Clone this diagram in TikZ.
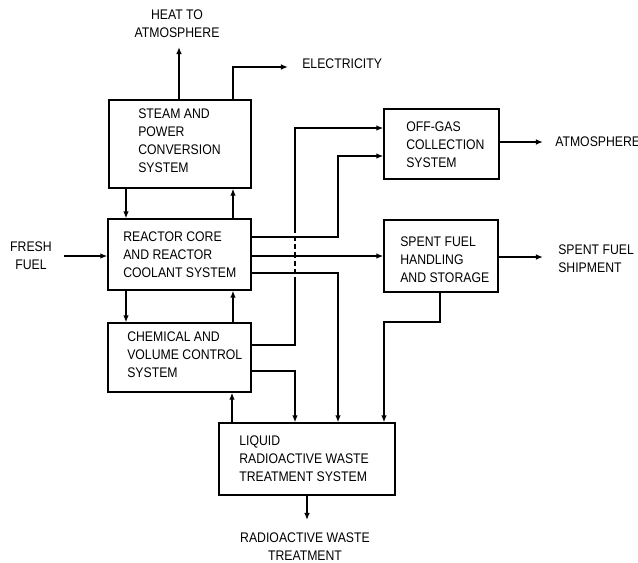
\documentclass[tikz,border=0pt]{standalone}
\usepackage{fontspec}
\setmainfont{Liberation Sans}[FakeStretch=0.88]
\usepackage{tikz}
\usetikzlibrary{positioning,arrows.meta}

\begin{document}
\begin{tikzpicture}[x=0.025cm,y=-0.025cm,>={Latex[length=5pt,width=4pt]},
  blk/.style={draw,line width=0.9pt,inner sep=0pt},
  txt/.style={inner sep=0pt,align=left,font=\fontsize{9.9}{12.8}\selectfont},
  pipe/.style={line width=1.1pt},
  flow/.style={pipe,->},
  jump/.style={pipe,dash pattern=on 3.6pt off 2.2pt}]
\useasboundingbox (0,0) rectangle (638,562);
% boxes
\node[blk,minimum width=3.55cm,minimum height=2.2cm] (steam) at (180,144) {};
\node[txt,anchor=west] (steamlbl) at (138,141) {STEAM AND\\POWER\\CONVERSION\\SYSTEM};
\node[blk,minimum width=3.575cm,minimum height=1.775cm] (reactor) at (179.5,254.5) {};
\node[txt,anchor=west] (reactorlbl) at (123,255) {REACTOR CORE\\AND REACTOR\\COOLANT SYSTEM};
\node[blk,minimum width=3.575cm,minimum height=1.725cm] (chem) at (179.5,357.5) {};
\node[txt,anchor=west] (chemlbl) at (127,355) {CHEMICAL AND\\VOLUME CONTROL\\SYSTEM};
\node[blk,minimum width=4.4cm,minimum height=1.8cm] (liquid) at (307,459) {};
\node[txt,anchor=west] (liquidlbl) at (239,459) {LIQUID\\RADIOACTIVE WASTE\\TREATMENT SYSTEM};
\node[blk,minimum width=2.875cm,minimum height=1.75cm] (offgas) at (441.5,144) {};
\node[txt,anchor=west] (offgaslbl) at (406,145) {OFF-GAS\\COLLECTION\\SYSTEM};
\node[blk,minimum width=2.85cm,minimum height=1.8cm] (spent) at (441,256) {};
\node[txt,anchor=west] (spentlbl) at (400,260) {SPENT FUEL\\HANDLING\\AND STORAGE};
% outside texts
\node[txt,align=center] (heat) at (177,24) {HEAT TO\\ATMOSPHERE};
\node[txt,anchor=west] (elec) at (302,64) {ELECTRICITY};
\node[txt,align=center] (fresh) at (31,256) {FRESH\\FUEL};
\node[txt,anchor=west] (atmos) at (555,142) {ATMOSPHERE};
\node[txt,anchor=west] (ship) at (558,259) {SPENT FUEL\\SHIPMENT};
\node[txt,align=center] (waste) at (305,547) {RADIOACTIVE WASTE\\TREATMENT};
% free ends
\coordinate (heatend) at (179,47);
\coordinate (elecend) at (288,67);
\coordinate (atmosend) at (543,142);
\coordinate (shipend) at (543,257);
\coordinate (wasteend) at (307,520);
\coordinate (jumphi) at (295,228);
\coordinate (jumplo) at (295,282);
% steam outputs
\draw[flow] (steam.north -| heatend) -- (heatend);
\draw[flow] (steam.north -| 233,0) |- (elecend);
% left column
\draw[flow] (steam.south -| 126,0) -- (reactor.north -| 126,0);
\draw[flow] (reactor.north -| 233,0) -- (steam.south -| 233,0);
\draw[flow] (reactor.south -| 126,0) -- (chem.north -| 126,0);
\draw[flow] (chem.north -| 233,0) -- (reactor.south -| 233,0);
\draw[flow] (liquid.north -| 232,0) -- (chem.south -| 232,0);
\draw[flow,shorten <=0.3cm] (fresh.east) -- (reactor.west |- fresh.east);
% reactor to the right
\draw[flow] (reactor.east |- 0,237) -- (338,237) -- (338,156) -- (offgas.west |- 0,156);
\draw[flow] (reactor.east |- spent.west) -- (spent.west);
\draw[flow] (reactor.east |- 0,273) -| (liquid.north -| 338,0);
% chemical to the right
\draw[pipe] (chem.east |- 0,345) -| (jumplo);
\draw[jump] (jumplo) -- (jumphi);
\draw[flow] (jumphi) |- (offgas.west |- 0,128);
\draw[flow] (chem.east |- 0,371) -| (liquid.north -| 295,0);
% spent fuel to waste
\draw[flow] (spent.south -| 440,0) -- (440,322) -| (liquid.north -| 384,0);
% outputs
\draw[flow] (offgas.east |- atmosend) -- (atmosend);
\draw[flow] (spent.east |- shipend) -- (shipend);
\draw[flow] (liquid.south -| wasteend) -- (wasteend);
\end{tikzpicture}
\end{document}
